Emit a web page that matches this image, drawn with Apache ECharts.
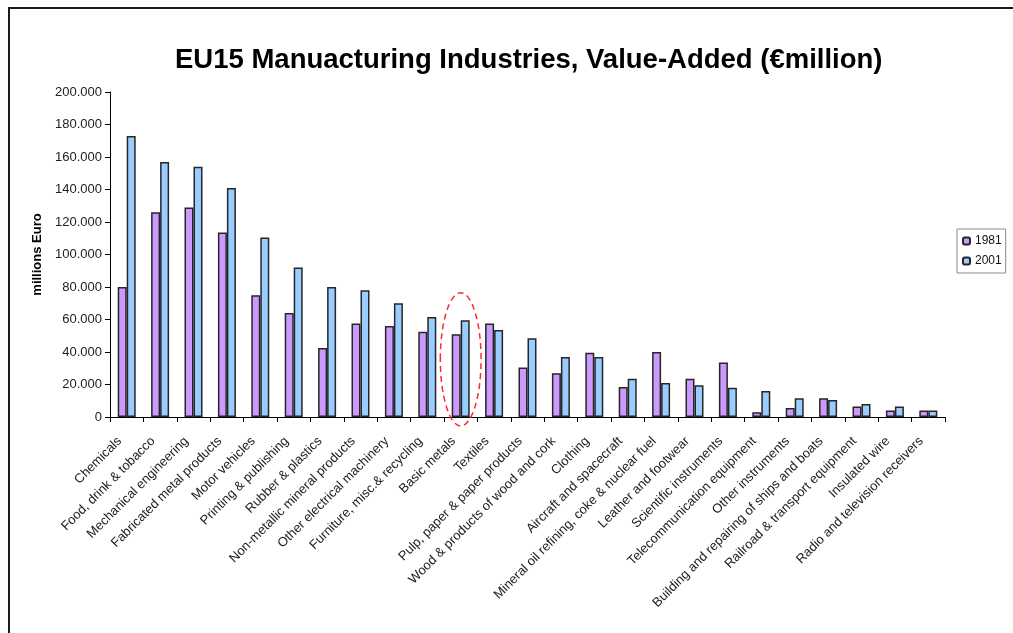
<!DOCTYPE html>
<html>
<head>
<meta charset="utf-8">
<script src="https://cdn.jsdelivr.net/npm/echarts@6/dist/echarts.min.js"></script>
<style>
  html, body { margin: 0; padding: 0; background: #fff; }
  #chart { width: 1013px; height: 633px; }
</style>
</head>
<body>
<div id="chart"></div>
<script>
// EU15 manufacturing value-added by industry, million euro
const industries = [
  'Chemicals', 'Food, drink & tobacco', 'Mechanical engineering', 'Fabricated metal products',
  'Motor vehicles', 'Printing & publishing', 'Rubber & plastics', 'Non-metallic mineral products',
  'Other electrical machinery', 'Furniture, misc.& recycling', 'Basic metals', 'Textiles',
  'Pulp, paper & paper products', 'Wood & products of wood and cork', 'Clothing',
  'Aircraft and spacecraft', 'Mineral oil refining, coke & nuclear fuel', 'Leather and footwear',
  'Scientific instruments', 'Telecommunication equipment', 'Other instruments',
  'Building and repairing of ships and boats', 'Railroad & transport equipment',
  'Insulated wire', 'Radio and television receivers'
];
const value1981 = [80000, 126000, 129000, 113500, 75000, 64000, 42500, 57500, 56000, 52500,
  51000, 57500, 30500, 27000, 39500, 18500, 40000, 23500, 33500, 3000, 5500, 11500, 6500, 4000, 4000];
const value2001 = [173000, 157000, 154000, 141000, 110500, 92000, 80000, 78000, 70000, 61500,
  59500, 53500, 48500, 37000, 37000, 23500, 21000, 19500, 18000, 16000, 11500, 10500, 8000, 6500, 4000];
const yearNames = ['1981', '2001'];
const yMin = 0, yMax = 200000, yStep = 20000;
// industry circled by the dashed ellipse, and the value range it covers
const circledIndustry = 'Basic metals';
const circleRange = [-5500, 76500];

const chart = echarts.init(document.getElementById('chart'), null, { renderer: 'canvas' });
const font = 'Liberation Sans, Arial, sans-serif';

function dotThousands(v) {
  return String(v).replace(/\B(?=(\d{3})+(?!\d))/g, '.');
}

const barStyle = (color) => ({ color: color, borderColor: '#262626', borderWidth: 1.5 });

chart.setOption({
  animation: false,
  backgroundColor: '#ffffff',
  title: {
    text: 'EU15 Manuacturing Industries, Value-Added (€million)',
    left: 170,
    top: 41,
    textStyle: { fontFamily: font, fontSize: 27.5, fontWeight: 'bold', color: '#000' }
  },
  legend: {
    orient: 'vertical',
    left: 957,
    top: 229,
    data: yearNames,
    itemWidth: 7,
    itemHeight: 7,
    itemGap: 8,
    padding: [6, 4, 6, 5],
    borderColor: '#8c8c8c',
    borderWidth: 1,
    textStyle: { fontFamily: font, fontSize: 12, color: '#111' }
  },
  grid: { left: 110, right: 68, top: 92, bottom: 216, containLabel: false },
  xAxis: {
    type: 'category',
    data: industries,
    axisLine: { lineStyle: { color: '#000', width: 1 } },
    axisTick: { show: true, interval: 0, length: 5, alignWithLabel: false, lineStyle: { color: '#000' } },
    axisLabel: {
      interval: 0, rotate: 45, margin: 15, padding: [0, 10, 0, 0],
      fontFamily: font, fontSize: 13, color: '#222'
    },
    splitLine: { show: false }
  },
  yAxis: {
    type: 'value',
    min: yMin, max: yMax, interval: yStep,
    name: 'millions Euro',
    nameLocation: 'middle',
    nameGap: 66,
    nameRotate: 90,
    nameTextStyle: { fontFamily: font, fontSize: 13, fontWeight: 'bold', color: '#000' },
    axisLine: { show: true, lineStyle: { color: '#000', width: 1 } },
    axisTick: { show: true, length: 5, lineStyle: { color: '#000' } },
    axisLabel: { margin: 8, fontFamily: font, fontSize: 13, color: '#222', formatter: dotThousands },
    splitLine: { show: false }
  },
  series: [
    { name: yearNames[0], type: 'bar', data: value1981, barWidth: 9, barGap: '0%', itemStyle: barStyle('#cc99ff') },
    { name: yearNames[1], type: 'bar', data: value2001, barWidth: 9, barGap: '0%', itemStyle: barStyle('#99ccff') }
  ]
});

// frame lines and the dashed ellipse around the circled industry
const idx = industries.indexOf(circledIndustry);
const pTop = chart.convertToPixel({ xAxisIndex: 0, yAxisIndex: 0 }, [idx, circleRange[1]]);
const pBot = chart.convertToPixel({ xAxisIndex: 0, yAxisIndex: 0 }, [idx, circleRange[0]]);
const catWidth = chart.convertToPixel({ xAxisIndex: 0 }, 1) - chart.convertToPixel({ xAxisIndex: 0 }, 0);

chart.setOption({
  graphic: [
    { type: 'line', shape: { x1: 8, y1: 8, x2: 1013, y2: 8 }, style: { stroke: '#1a1a1a', lineWidth: 2 } },
    { type: 'line', shape: { x1: 9, y1: 7, x2: 9, y2: 633 }, style: { stroke: '#1a1a1a', lineWidth: 2 } },
    {
      type: 'ellipse',
      shape: { cx: pTop[0], cy: (pTop[1] + pBot[1]) / 2, rx: catWidth * 0.61, ry: (pBot[1] - pTop[1]) / 2 },
      style: { fill: 'none', stroke: '#ff2a2a', lineWidth: 1.5, lineDash: [6, 4] },
      z: 100
    }
  ]
});
</script>
</body>
</html>
